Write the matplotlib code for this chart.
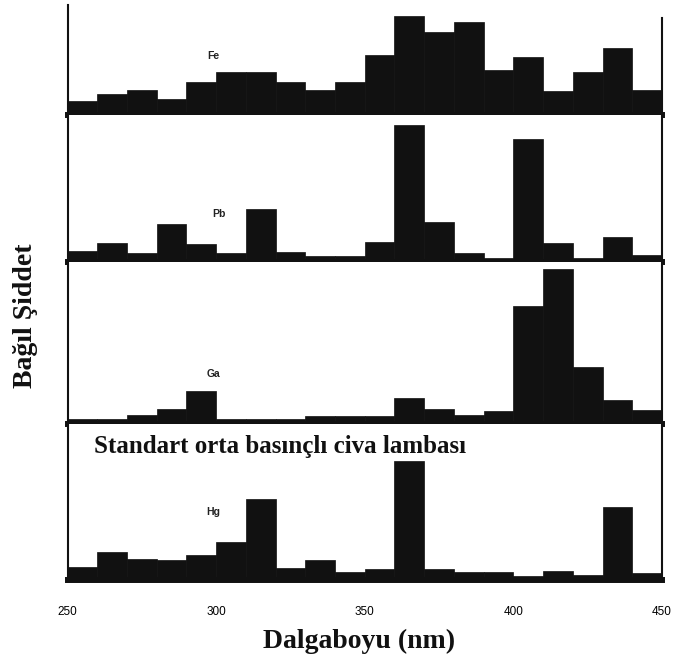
import matplotlib
matplotlib.use("Agg")
import matplotlib.pyplot as plt
import numpy as np

# bin left edges (nm), 10 nm wide bins
bin_edges = [250, 260, 270, 280, 290, 300, 310, 320, 330, 340,
             350, 360, 370, 380, 390, 400, 410, 420, 430, 440]
bin_width = 10

# relative intensities (arbitrary units)
fe = [12, 19, 23, 14, 31, 41, 41, 31, 23, 31, 58, 97, 81, 91, 43, 56, 22, 41, 65, 23]
pb = [9, 17, 7, 36, 16, 7, 51, 8, 4, 4, 18, 135, 38, 7, 2, 121, 17, 2, 23, 5]
ga = [3, 3, 7, 13, 31, 3, 3, 3, 6, 6, 6, 24, 13, 7, 11, 116, 153, 55, 22, 12]
hg = [11, 26, 19, 18, 23, 36, 79, 10, 18, 6, 9, 117, 9, 6, 6, 2, 7, 3, 71, 5]

element_labels = ["Fe", "Pb", "Ga", "Hg"]
series = [fe, pb, ga, hg]
panel_ymax = [108, 145, 160, 154]
label_pos = [(299, 57), (301, 46), (299, 48), (299, 66)]

xticks = [250, 300, 350, 400, 450]
tick_marks = [300, 350, 400]
xlabel = "Dalgaboyu (nm)"
ylabel = "Bağıl Şiddet"
hg_title = "Standart orta basınçlı civa lambası"

W, H = 676, 664
fig = plt.figure(figsize=(W / 100, H / 100), dpi=100)
fig.patch.set_facecolor("white")

left_px, right_px = 67.5, 662
bounds_px = [(5, 115), (115, 262), (262, 424), (424, 580)]
sep_lw = 4.3
axes = []
for i, (top, bot) in enumerate(bounds_px):
    ax = fig.add_axes([left_px / W, 1 - bot / H, (right_px - left_px) / W, (bot - top) / H])
    ax.bar(bin_edges, series[i], width=bin_width, align="edge",
           color="#111111", edgecolor="#111111", linewidth=0.5)
    ax.set_xlim(250, 450)
    ax.set_ylim(-2.5, panel_ymax[i])
    ax.set_yticks([])
    ax.spines["top"].set_visible(False)
    ax.spines["bottom"].set_linewidth(sep_lw)
    ax.spines["left"].set_linewidth(1.5)
    ax.spines["right"].set_linewidth(1.5)
    for s in ax.spines.values():
        s.set_color("#111111")
    ax.text(label_pos[i][0], label_pos[i][1], element_labels[i], fontsize=7.5,
            fontweight="bold", family="Liberation Sans", color="#222222",
            ha="center", va="center")
    if i < 3:
        ax.set_xticks([])
    axes.append(ax)

axes[0].spines["right"].set_bounds(-2.5, panel_ymax[0] - 13)

ax = axes[3]
ax.set_xticks(xticks)
ax.set_xticklabels([str(t) for t in xticks], family="Liberation Sans", fontsize=8.5)
ax.tick_params(axis="x", which="major", length=0, pad=19)
# outward tick marks at the inner tick positions
ax.set_xticks(tick_marks, minor=True)
ax.tick_params(axis="x", which="minor", bottom=True, direction="out",
               length=12, width=2.0, color="black", zorder=10)
ax.set_zorder(5)
ax.text(259, 131, hg_title, fontsize=18, fontweight="bold",
        family="Liberation Serif", color="#111111", ha="left", va="center")

fig.text(359 / W, 1 - 641 / H, xlabel, fontsize=20, fontweight="bold",
         family="Liberation Serif", ha="center", va="center", color="#111111")
fig.text(26 / W, 1 - 316 / H, ylabel, fontsize=20, fontweight="bold",
         family="Liberation Serif", ha="center", va="center", rotation=90, color="#111111")

fig.savefig("out.png", dpi=100, facecolor="white")
